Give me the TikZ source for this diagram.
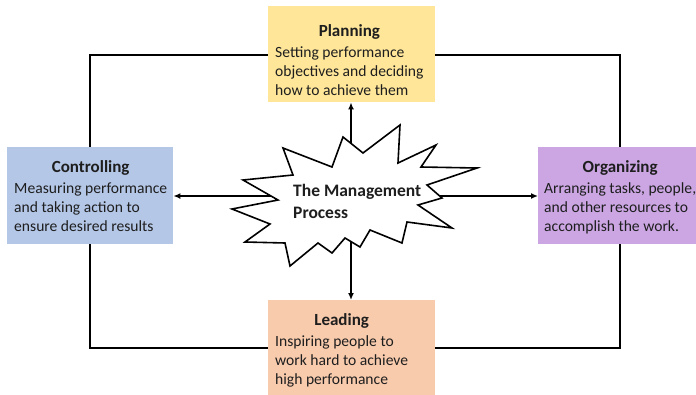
\documentclass[tikz,border=0pt]{standalone}
\usepackage{fontspec}
\setmainfont{Carlito}
\usetikzlibrary{arrows.meta}
\definecolor{planc}{HTML}{FFE699}
\definecolor{ctrlc}{HTML}{B4C7E7}
\definecolor{orgc}{HTML}{CBA6E3}
\definecolor{leadc}{HTML}{F8CBAD}
\definecolor{txt}{HTML}{1E1E1E}
\newcommand\boxttl[1]{{\fontsize{17}{19.5}\selectfont\bfseries #1}}
\begin{document}
\begin{tikzpicture}[x=1pt,y=-1pt,
  box/.style={draw=none,rectangle,inner sep=0pt,anchor=north west},
  lbl/.style={inner sep=0pt,text=txt,font=\fontsize{15.6}{19.3}\selectfont},
  conn/.style={line width=1.6pt,-{Latex[length=7pt,width=6pt]}},
  frame/.style={line width=1.8pt}]
\useasboundingbox (0,0) rectangle (696,394);
% outer frame
\coordinate (f1) at (90,55);
\coordinate (f2) at (620,348);
\draw[frame] (f1) rectangle (f2);
% boxes
\node[box,fill=planc,minimum width=167pt,minimum height=96pt] (plan) at (268,6) {};
\node[box,fill=ctrlc,minimum width=166pt,minimum height=97pt] (ctrl) at (7,147) {};
\node[box,fill=orgc,minimum width=162pt,minimum height=97pt] (org) at (538,147) {};
\node[box,fill=leadc,minimum width=167pt,minimum height=100pt] (lead) at (268,300) {};
% centre and connectors
\coordinate (c) at (351,196);
\draw[conn] (c) -- (c |- plan.south);
\draw[conn] (c) -- (c |- lead.north);
\draw[conn] (c) -- (c -| ctrl.east);
\draw[conn] (c) -- (c -| org.west);
% star
\draw[line width=1.6pt,fill=white,line join=miter]
 (343,137) -- (363,153) -- (400,125) -- (398,163) -- (436,145) -- (421,167)
 -- (477,168) -- (427,185) -- (442,198) -- (418,205) -- (452,228) -- (407,222)
 -- (402,243) -- (370,230) -- (360,247) -- (345,238) -- (332,253) -- (318,243)
 -- (290,266) -- (285,243) -- (245,242) -- (270,224) -- (232,209) -- (278,200)
 -- (243,180) -- (293,175) -- (283,148) -- (332,167) -- cycle;
\node[lbl,anchor=west,align=left,font=\fontsize{17.5}{22}\selectfont\bfseries] (mp) at (293,201) {The Management\\Process};
% texts
\node[lbl,anchor=north west] (plant) at (275,23) {\begin{tabular}{@{}l@{}}\multicolumn{1}{@{}c@{}}{\boxttl{Planning}}\\[1pt]Setting performance\\objectives and deciding\\how to achieve them\end{tabular}};
\node[lbl,anchor=north west] (ctrlt) at (14,159) {\begin{tabular}{@{}l@{}}\multicolumn{1}{@{}c@{}}{\boxttl{Controlling}}\\[1pt]Measuring performance\\and taking action to\\ensure desired results\end{tabular}};
\node[lbl,anchor=north west] (orgt) at (544,159) {\begin{tabular}{@{}l@{}}\multicolumn{1}{@{}c@{}}{\boxttl{Organizing}}\\[1pt]Arranging tasks, people,\\and other resources to\\accomplish the work.\end{tabular}};
\node[lbl,anchor=north west] (leadt) at (275,312) {\begin{tabular}{@{}l@{}}\multicolumn{1}{@{}c@{}}{\boxttl{Leading}}\\[1pt]Inspiring people to\\work hard to achieve\\high performance\end{tabular}};
\end{tikzpicture}
\end{document}
